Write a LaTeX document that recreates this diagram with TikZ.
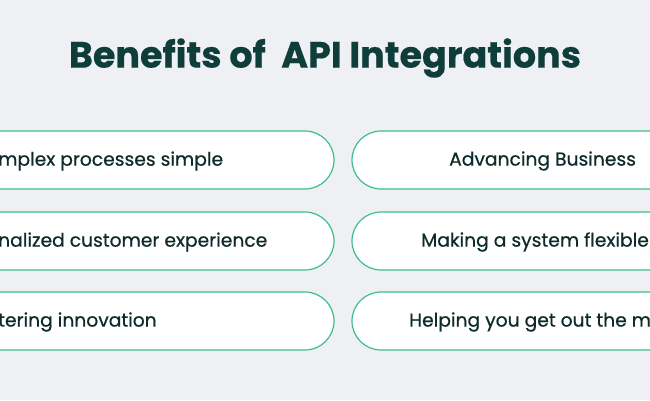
\documentclass[tikz,border=0pt]{standalone}
\usepackage{fontspec}
\setmainfont{Poppins}
\definecolor{bg}{HTML}{EEF0F4}
\definecolor{ttl}{HTML}{0F3D3A}
\definecolor{grn}{HTML}{3DBE8B}
\definecolor{txt}{HTML}{0F2A2A}
\tikzset{pill/.style={draw=grn,line width=1.2pt,fill=white,rounded corners=29pt},
lbl/.style={text=txt,font=\fontsize{18.7}{22}\selectfont\addfontfeature{FakeBold=0.6},inner sep=0pt}}
\begin{document}
\begin{tikzpicture}[x=1pt,y=-1pt]
\fill[bg] (0,0) rectangle (650,400);
\useasboundingbox (0,0) rectangle (650,400);
\clip (0,0) rectangle (650,400);
\node[text=ttl,font=\fontsize{36.5}{40}\selectfont\bfseries\addfontfeature{FakeBold=0.5}] (title) at (325,58) {Benefits of\ \ API Integrations};
\draw[pill] (-60,131) rectangle (334,189);
\draw[pill] (-60,212) rectangle (334,270);
\draw[pill] (-60,292) rectangle (334,350);
\draw[pill] (352,131) rectangle (720,189);
\draw[pill] (352,212) rectangle (720,270);
\draw[pill] (352,292) rectangle (720,350);
\node[lbl,anchor=west] (l1) at (-2,161) {mplex processes simple};
\node[lbl,anchor=west] (l2) at (-2,242) {nalized customer experience};
\node[lbl,anchor=west] (l3) at (-2,322) {tering innovation};
\node[lbl,anchor=west] (r1) at (449,161) {Advancing Business};
\node[lbl,anchor=west] (r2) at (421,242) {Making a system flexible};
\node[lbl,anchor=west] (r3) at (409,322) {Helping you get out the mess};
\end{tikzpicture}
\end{document}
